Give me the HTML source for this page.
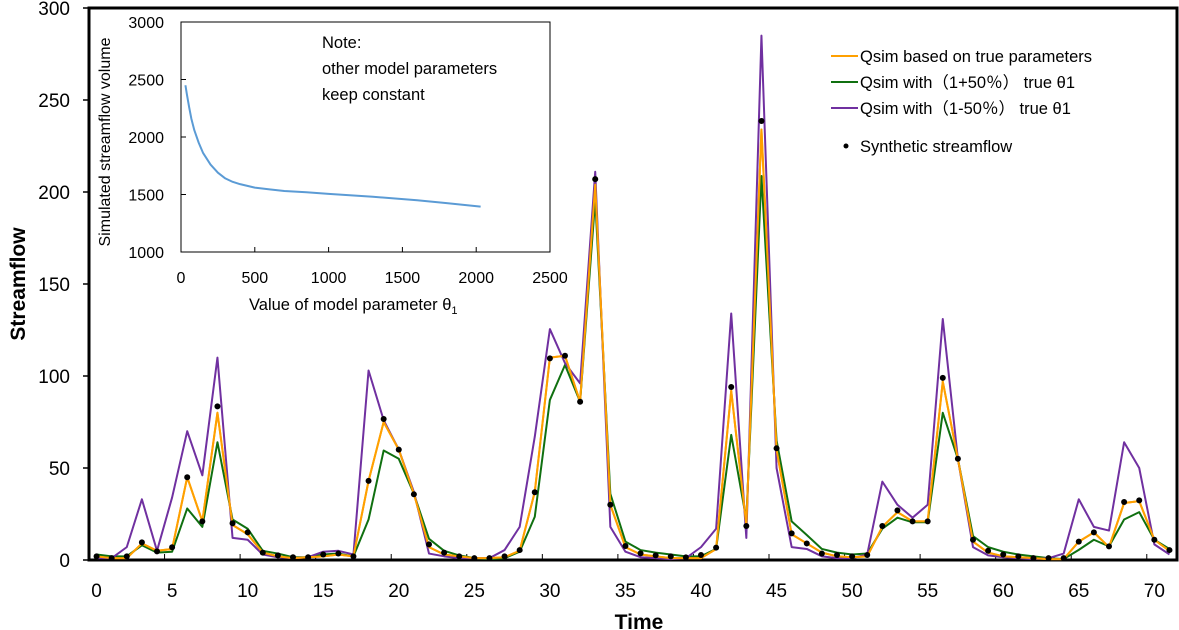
<!DOCTYPE html>
<html><head><meta charset="utf-8"><style>
body{margin:0;background:#fff;font-family:"Liberation Sans","Noto Sans CJK SC",sans-serif}
svg{display:block}
</style></head><body>
<svg id="chart" width="1179" height="630" xmlns="http://www.w3.org/2000/svg" font-family="Liberation Sans, Noto Sans CJK SC, sans-serif"></svg>
<script>
const obs=[2,1,2,9.6,4.7,6.9,45,21,83.5,20,15,4,2.5,1.5,1.5,3,3.5,2,43,76.6,60,35.7,8.5,4,2,1,1,2,5.4,36.8,109.6,111,86,207,30,7.6,3.6,2.5,2,1.4,2.7,6.7,94,18.5,238.6,60.7,14.5,9,3.5,2.7,2,2.7,18.5,27,21,21,99,55,11,5,3,2,1,1,1,10,15,7.4,31.5,32.4,11,5.4];
const qTrue=[2,1,1,9,5,6,45,21,80,19,14,4,2,1,1.5,2,3,2,43,75,60,36,7,3,2,1,1,1.5,5,37,110,111,86,204,30,7,3,2,1,1,1,6,92,19,234,60,14,9,4,2,1.5,2,18,26,21,21,97,55,10,4,2,1.5,1,0.5,0.5,10,15,7,31,32,11,5];
const qPlus=[3,2,2,8,4,4.5,28,18,64,22,17,5,3.5,1.5,1.5,3,3.5,2,22,59.5,55,36,11.5,5,2.5,1,0.5,1,4.5,23.5,87,106,86,196,36,10,5.4,4,3,2,2,6,68,22,208.7,65,21,13.6,6,4,3,3.5,17,23,20.5,20.5,80,55,13,7,4.5,3,2,1,0.5,5.5,11,7.4,22,26,11,6];
const qMinus=[1,1,7,33,5,34,70,46,110,12,11,3,1.5,1,1.5,4.5,5,3,103,76,60,37,3.5,2,1,1,1,5.4,18,67,125.5,107,96,211,18,4.5,1.5,1,0.5,1,7,17,134,12,285,50,7,6,2,1,1,3,42.6,30,23,30,131,55,7,2.5,1.5,1,0.5,1,3.5,33,18,16,64,50,8.5,3];
const yTicks=[0,50,100,150,200,250,300];
const xTicks=[0,5,10,15,20,25,30,35,40,45,50,55,60,65,70];
const insetX=[30,40,55,70,90,120,150,200,250,300,350,400,500,600,700,850,1000,1300,1600,1800,2030];
const insetY=[2450,2370,2260,2160,2060,1950,1860,1760,1690,1640,1610,1590,1560,1545,1530,1520,1505,1480,1450,1425,1395];
const insetXTicks=[0,500,1000,1500,2000,2500];
const insetYTicks=[1000,1500,2000,2500,3000];

const svg=document.getElementById('chart');
const NS='http://www.w3.org/2000/svg';
function mk(tag,attrs,parent){const e=document.createElementNS(NS,tag);for(const k in attrs)e.setAttribute(k,attrs[k]);(parent||svg).appendChild(e);return e;}
const L=89,R=1177,T=8,B=560,N=72;
const xs=i=>L+(i+0.5)*(R-L)/N;
const ys=v=>B-v*(B-T)/300;

let e=mk('rect',{x:L,y:T,width:R-L,height:B-T,fill:'none',stroke:'#000','stroke-width':3});

yTicks.forEach(v=>{
  let t=mk('line',{x1:L-6,x2:L,y1:ys(v),y2:ys(v),stroke:'#000','stroke-width':1.5});
  
  let l=mk('text',{x:70,y:ys(v)+7,'text-anchor':'end','font-size':19,fill:'#000'});l.textContent=v;
  
});
xTicks.forEach(v=>{
  const bx=L+v*(R-L)/N;
  if(v>0){let t=mk('line',{x1:bx,x2:bx,y1:B-6,y2:B,stroke:'#000','stroke-width':1});
  }
  let l=mk('text',{x:xs(v),y:597,'text-anchor':'middle','font-size':19,fill:'#000'});l.textContent=v;
  
});
let yt=mk('text',{x:0,y:0,transform:'translate(25,284) rotate(-90)','text-anchor':'middle','font-size':21,'font-weight':'bold'});yt.textContent='Streamflow';

let xt=mk('text',{x:639,y:629,'text-anchor':'middle','font-size':21,'font-weight':'bold'});xt.textContent='Time';


function series(arr,color,name){
  const p=mk('polyline',{points:arr.map((v,i)=>xs(i)+','+ys(v)).join(' '),fill:'none',stroke:color,'stroke-width':2,'stroke-linejoin':'round'});
  
}
series(qTrue,'#ffa000','qsim-true-line');
series(qPlus,'#107010','qsim-plus50-line');
series(qMinus,'#7030a0','qsim-minus50-line');
series(qTrue,'#ffa000','qsim-true-line-top');
obs.forEach((v,i)=>{const c=mk('circle',{cx:xs(i),cy:ys(v),r:3,fill:'#000'});
  });

const leg=[['#ffa000','Qsim based on true parameters'],['#107010','Qsim with（1+50％） true θ1'],['#7030a0','Qsim with（1-50％） true θ1']];
leg.forEach((d,k)=>{
  const y=56+k*26;
  let ln=mk('line',{x1:831,x2:858,y1:y,y2:y,stroke:d[0],'stroke-width':2});
  
  let t=mk('text',{x:860,y:y+6,'font-size':16.5});t.textContent=d[1];
  
});
let ld=mk('circle',{cx:846,cy:146,r:2.5,fill:'#000'});
let lt=mk('text',{x:860,y:152,'font-size':16.5});lt.textContent='Synthetic streamflow';


const IL=181,IR=550,IT=22,IB=252;
const ix=v=>IL+v*(IR-IL)/2500, iy=v=>IB-(v-1000)*(IB-IT)/2000;
let ib=mk('rect',{x:IL,y:IT,width:IR-IL,height:IB-IT,fill:'#fff',stroke:'#000','stroke-width':1});

insetYTicks.forEach(v=>{let l=mk('text',{x:164,y:iy(v)+6,'text-anchor':'end','font-size':16});l.textContent=v;
  
  let t=mk('line',{x1:IL,x2:IL+5,y1:iy(v),y2:iy(v),stroke:'#000'});});
insetXTicks.forEach(v=>{let l=mk('text',{x:ix(v),y:283,'text-anchor':'middle','font-size':16});l.textContent=v;
  
  let t=mk('line',{x1:ix(v),x2:ix(v),y1:IB-5,y2:IB,stroke:'#000'});});
let it=mk('text',{x:0,y:0,transform:'translate(110,142) rotate(-90)','text-anchor':'middle','font-size':16});it.textContent='Simulated streamflow volume';

let ixt=mk('text',{x:249,y:310,'font-size':16.5});ixt.innerHTML='Value of model parameter θ<tspan font-size="11" dy="4">1</tspan>';

let ic=mk('polyline',{points:insetX.map((v,i)=>ix(v)+','+iy(insetY[i])).join(' '),fill:'none',stroke:'#5b9bd5','stroke-width':2,'stroke-linejoin':'round'});

['Note:','other model parameters','keep constant'].forEach((s,k)=>{let t=mk('text',{x:322,y:48+k*26,'font-size':16.5});t.textContent=s;
  });
</script>
</body></html>
